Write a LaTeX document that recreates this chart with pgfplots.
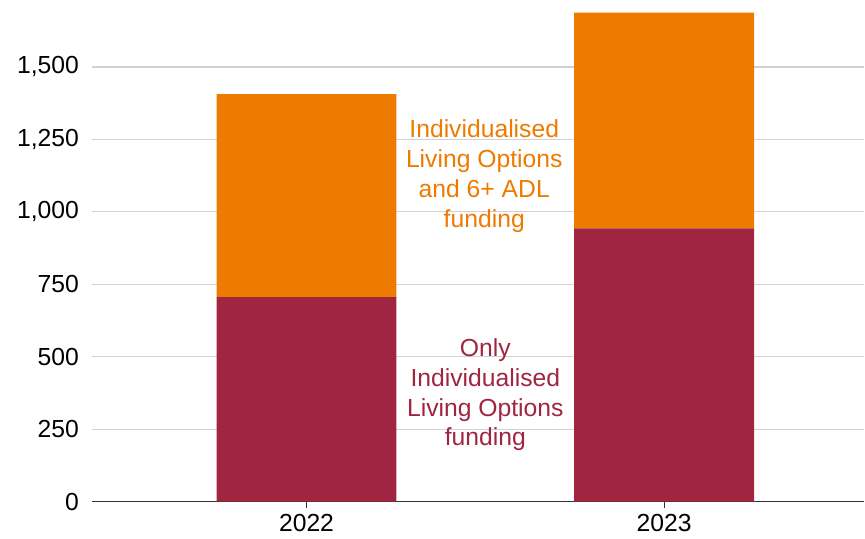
\documentclass[border=0pt]{standalone}
\usepackage{fontspec}
\setmainfont{Liberation Sans}
\usepackage{pgfplots}
\pgfplotsset{compat=1.18}
\definecolor{orng}{HTML}{EE7A00}
\definecolor{crim}{HTML}{A02540}
\begin{document}
\begin{tikzpicture}
\begin{axis}[
  name=ax,
  scale only axis,
  width=386.5bp, height=251bp,
  xmin=-0.6, xmax=1.56, ymin=0, ymax=1731,
  ybar stacked, bar width=0.503,
  axis lines*=left,
  y axis line style={draw=none},
  x axis line style={black!80, line width=0.6bp},
  ymajorgrids, grid style={gray!35, line width=0.6bp},
  ytick={0,250,...,1500},
  ytick style={draw=none},
  xtick={0,1}, xticklabels={2022,2023},
  tick align=outside,
  xtick style={black!80, line width=0.5bp},
  major tick length=3bp,
  tick label style={font=\fontsize{12.4}{14}\selectfont},
  /pgf/number format/.cd, 1000 sep={,}, assume math mode=true,
]
\addplot[fill=crim, draw=none] coordinates {(0,706) (1,943)};
\addplot[fill=orng, draw=none] coordinates {(0,700) (1,744)};
\node[text=orng, align=center, font=\fontsize{12.4}{15}\selectfont] at (axis cs:0.497,1124) {Individualised\\Living Options\\and 6+ ADL\\funding};
\node[text=crim, align=center, font=\fontsize{12.4}{15}\selectfont] at (axis cs:0.50,369) {Only\\Individualised\\Living Options\\funding};
\end{axis}
\path ([xshift=-46bp,yshift=-15bp]ax.south west) rectangle (ax.north east);
\end{tikzpicture}
\end{document}
